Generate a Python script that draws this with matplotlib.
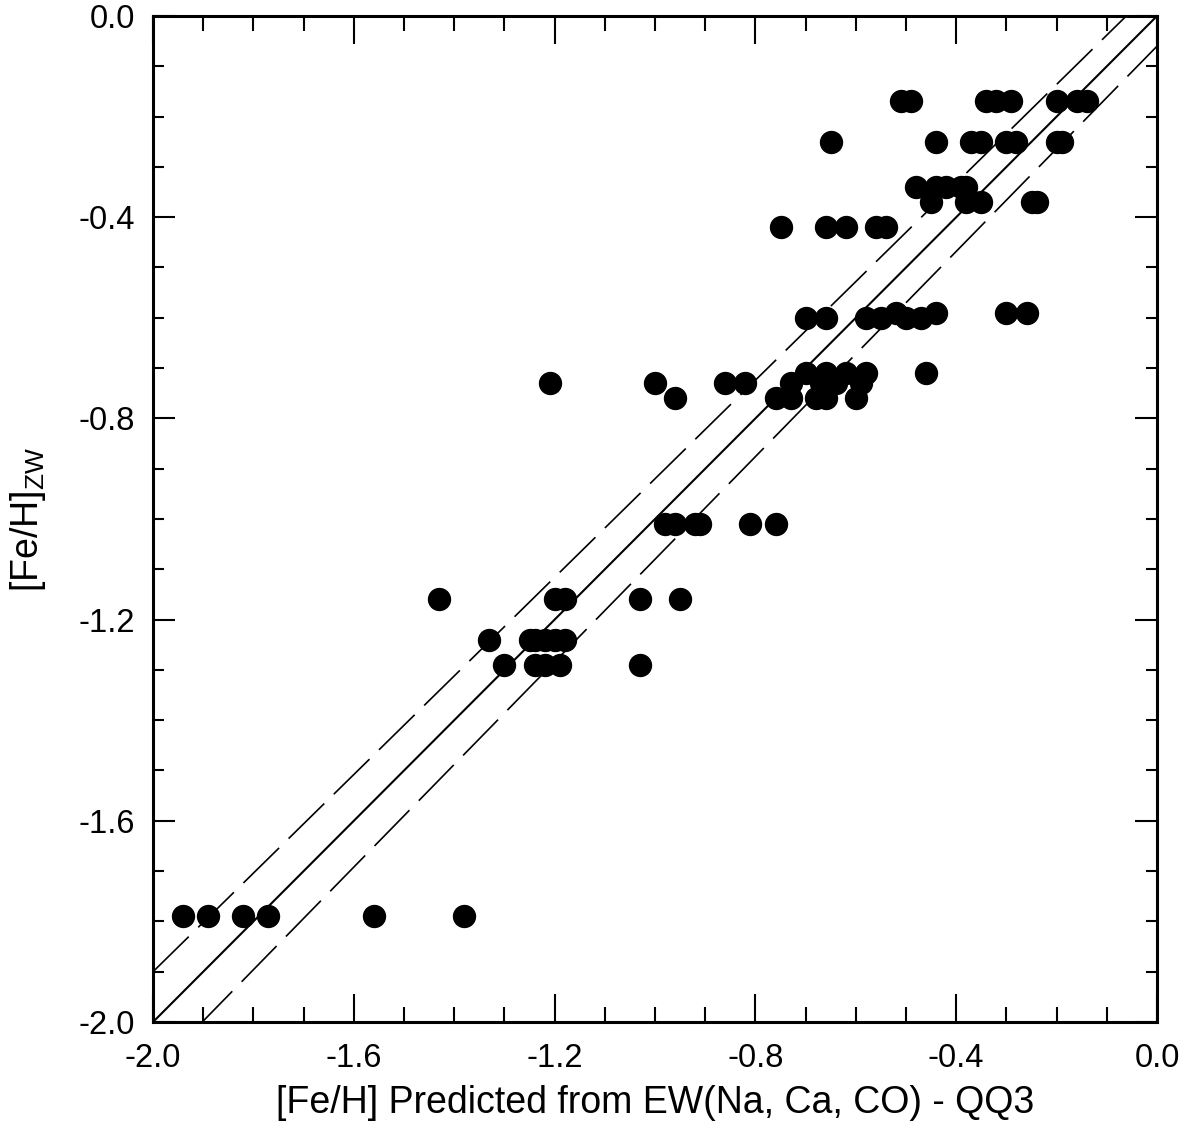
import matplotlib
matplotlib.use("Agg")
import matplotlib.pyplot as plt
import numpy as np
from matplotlib.ticker import MultipleLocator, FormatStrFormatter

plt.rcParams['font.family'] = ['Liberation Sans', 'DejaVu Sans']
plt.rcParams['axes.unicode_minus'] = False
plt.rcParams['mathtext.fontset'] = 'custom'
plt.rcParams['mathtext.rm'] = 'Liberation Sans'

# predicted [Fe/H] vs Zinn & West [Fe/H], grouped by ZW row
x_pred = [
    -0.51, -0.49, -0.34, -0.32, -0.29, -0.20, -0.16, -0.14,   # -0.17
    -0.65, -0.44, -0.37, -0.35, -0.30, -0.28, -0.20, -0.19,   # -0.25
    -0.48, -0.44, -0.42, -0.39, -0.38,                        # -0.34
    -0.45, -0.38, -0.35, -0.25, -0.24,                        # -0.37
    -0.75, -0.66, -0.62, -0.56, -0.54,                        # -0.42
    -0.52, -0.44, -0.30, -0.26,                               # -0.59
    -0.70, -0.66, -0.58, -0.55, -0.50, -0.47,                 # -0.60
    -0.70, -0.66, -0.62, -0.58, -0.46,                        # -0.71
    -1.21, -1.00, -0.86, -0.82, -0.73, -0.67, -0.64, -0.59,   # -0.73
    -0.96, -0.76, -0.73, -0.68, -0.66, -0.60,                 # -0.76
    -0.98, -0.96, -0.92, -0.91, -0.81, -0.76,                 # -1.01
    -1.43, -1.20, -1.18, -1.03, -0.95,                        # -1.16
    -1.33, -1.25, -1.24, -1.22, -1.20, -1.18,                 # -1.24
    -1.30, -1.24, -1.22, -1.19, -1.03,                        # -1.29
    -1.94, -1.89, -1.82, -1.77, -1.56, -1.38,                 # -1.79
]
zw_rows = [-0.17, -0.25, -0.34, -0.37, -0.42, -0.59, -0.60, -0.71,
           -0.73, -0.76, -1.01, -1.16, -1.24, -1.29, -1.79]
row_counts = [8, 8, 5, 5, 5, 4, 6, 5, 8, 6, 6, 5, 6, 5, 6]
y_zw = np.repeat(zw_rows, row_counts)

# one-to-one line and the scatter envelope
line_x = [-2.0, 0.0]
upper_y = [-1.90, 0.06]
lower_y = [-2.10, -0.06]

fig = plt.figure(figsize=(11.9, 11.41), dpi=100)
ax = fig.add_axes([0.1286, 0.1043, 0.8437, 0.8817])

ax.plot(x_pred, y_zw, 'o', color='black', markersize=15.8, zorder=3)
ax.plot(line_x, line_x, color='black', lw=1.5)
ax.plot(line_x, upper_y, color='black', lw=1.2, dashes=(30, 8))
ax.plot(line_x, lower_y, color='black', lw=1.2, dashes=(30, 8))

ax.set_xlim(-2.0, 0.0)
ax.set_ylim(-2.0, 0.0)
for a in (ax.xaxis, ax.yaxis):
    a.set_major_locator(MultipleLocator(0.4))
    a.set_minor_locator(MultipleLocator(0.1))
    a.set_major_formatter(FormatStrFormatter('%.1f'))

ax.tick_params(which='both', direction='in', top=True, right=True, width=1.5,
               labelsize=23.5)
ax.tick_params(axis='x', which='major', length=20, pad=15)
ax.tick_params(axis='x', which='minor', length=11)
ax.tick_params(axis='y', which='major', length=16, pad=13)
ax.tick_params(axis='y', which='minor', length=8)
for s in ax.spines.values():
    s.set_linewidth(2.2)

ax.set_xlabel('[Fe/H] Predicted from EW(Na, Ca, CO) - QQ3', fontsize=27, labelpad=8)
ax.set_ylabel(r'[Fe/H]$_\mathregular{ZW}$', fontsize=27, labelpad=22)

fig.savefig('out.png', dpi=100)
